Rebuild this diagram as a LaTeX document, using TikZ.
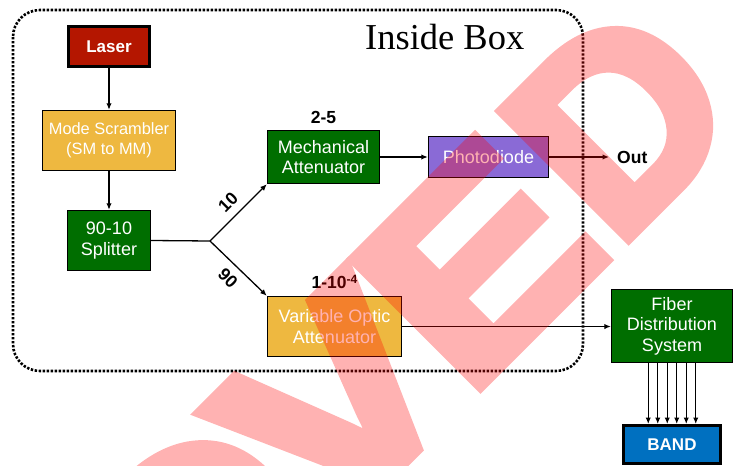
\documentclass[tikz,border=0pt]{standalone}
\usepackage{fontspec}
\setmainfont{Liberation Sans}
\newfontfamily\boxserif{Liberation Serif}
\newfontfamily\stampfont{Liberation Sans}[FakeBold=4.5, BoldFeatures={FakeBold=4.5}]
\usetikzlibrary{arrows.meta}

\definecolor{laserred}{RGB}{180,22,0}
\definecolor{ambr}{RGB}{238,184,64}
\definecolor{leaf}{RGB}{0,110,0}
\definecolor{violet}{RGB}{138,106,214}
\definecolor{ocean}{RGB}{0,112,192}

\tikzset{
  blk/.style={draw=black, line width=1.4pt, text=white, align=center, inner sep=0pt,
    font=\fontsize{18}{20.5}\selectfont},
  heavy/.style={blk, line width=3pt, font=\bfseries\fontsize{17}{19}\selectfont},
  arr/.style={line width=1.3pt, -{Latex[length=6.5pt,width=5.5pt]}},
  tag/.style={font=\bfseries\fontsize{17.5}{19}\selectfont, inner sep=0pt},
  stampletter/.style={rotate=45, xscale=#1, anchor=base west, inner sep=0pt, text=red,
    font=\stampfont\bfseries\fontsize{260}{260}\selectfont},
}

\begin{document}
\begin{tikzpicture}[x=1pt,y=-1pt]
  \useasboundingbox (0,0) rectangle (740,466);

  % enclosure
  \draw[line width=2.6pt, dash pattern=on 2.4pt off 1.6pt, rounded corners=27pt]
    (13,10) rectangle (583,371);
  \node[anchor=base west, inner sep=0pt, font=\boxserif\fontsize{36.5}{38}\selectfont]
    (title) at (365,49) {Inside Box};

  % blocks
  \node[heavy, fill=laserred, minimum width=81pt, minimum height=40pt] (laser) at (109,46.5) {Laser};
  \node[blk, fill=ambr, minimum width=133pt, minimum height=60pt,
        font=\fontsize{16.4}{20}\selectfont] (scr) at (109,140.5) {Mode Scrambler\\(SM to MM)};
  \node[blk, fill=leaf, minimum width=83pt, minimum height=60pt] (spl) at (109,240.5) {90-10\\Splitter};
  \node[blk, fill=leaf, minimum width=112pt, minimum height=53pt] (mech) at (323.5,157) {Mechanical\\Attenuator};
  \node[blk, fill=violet, minimum width=120pt, minimum height=41pt] (pd) at (488.5,157) {Photodiode};
  \node[blk, fill=ambr, minimum width=134pt, minimum height=60pt] (voa) at (334.5,326.5) {Variable Optic\\Attenuator};
  \node[blk, fill=leaf, minimum width=121pt, minimum height=73pt] (fds) at (672,326) {Fiber\\Distribution\\System};
  \node[heavy, fill=ocean, minimum width=97pt, minimum height=38pt] (band) at (672,444.5) {BAND};

  \node[tag, anchor=west] (out) at (617,157) {Out};
  \node[tag] (lmech) at (323.5,117) {2-5};
  \node[tag] (lvoa) at (334.5,282) {1-10\raisebox{5pt}{\fontsize{12}{12}\selectfont -4}};

  % connectors
  \coordinate (fork) at (210,241);
  \draw[arr] (laser) -- (scr);
  \draw[arr] (scr) -- (spl);
  \draw[line width=1.3pt] (spl.east) -- (fork);
  \draw[arr] (fork) -- (mech.south west);
  \draw[arr] (fork) -- (voa.north west);
  \node[tag, rotate=45] (l10) at (228,202) {10};
  \node[tag, rotate=-45] (l90) at (228,278) {90};
  \draw[arr] (mech) -- (pd);
  \draw[arr] (pd.east) -- ([xshift=-8pt]out.west);
  \draw[arr] (voa.east) -- (voa.east -| fds.west);
  \foreach \dx in {-23.75,-14.25,-4.75,4.75,14.25,23.75}
    \draw[arr] ([xshift=\dx pt]fds.south) -- ([xshift=\dx pt]band.north);

  % stamp across the sheet, letters set along a 45 degree baseline
  \begin{scope}[transparency group, opacity=0.3]
    \clip (0,0) rectangle (740,466);
    \begin{scope}[shift={(609.6,256.5)}, rotate=45]
      \foreach \ch/\s/\w in {A/-1524.7/1.2, P/-1289.7/1.2, P/-1071.7/1.2, R/-853.7/1.2,
                             O/-618.7/1.15, V/-400.7/1.2, E/-202.5/1.2, D/9.3/1.0}
        \node[stampletter=\w] at (\s,0) {\ch};
    \end{scope}
  \end{scope}
\end{tikzpicture}
\end{document}
